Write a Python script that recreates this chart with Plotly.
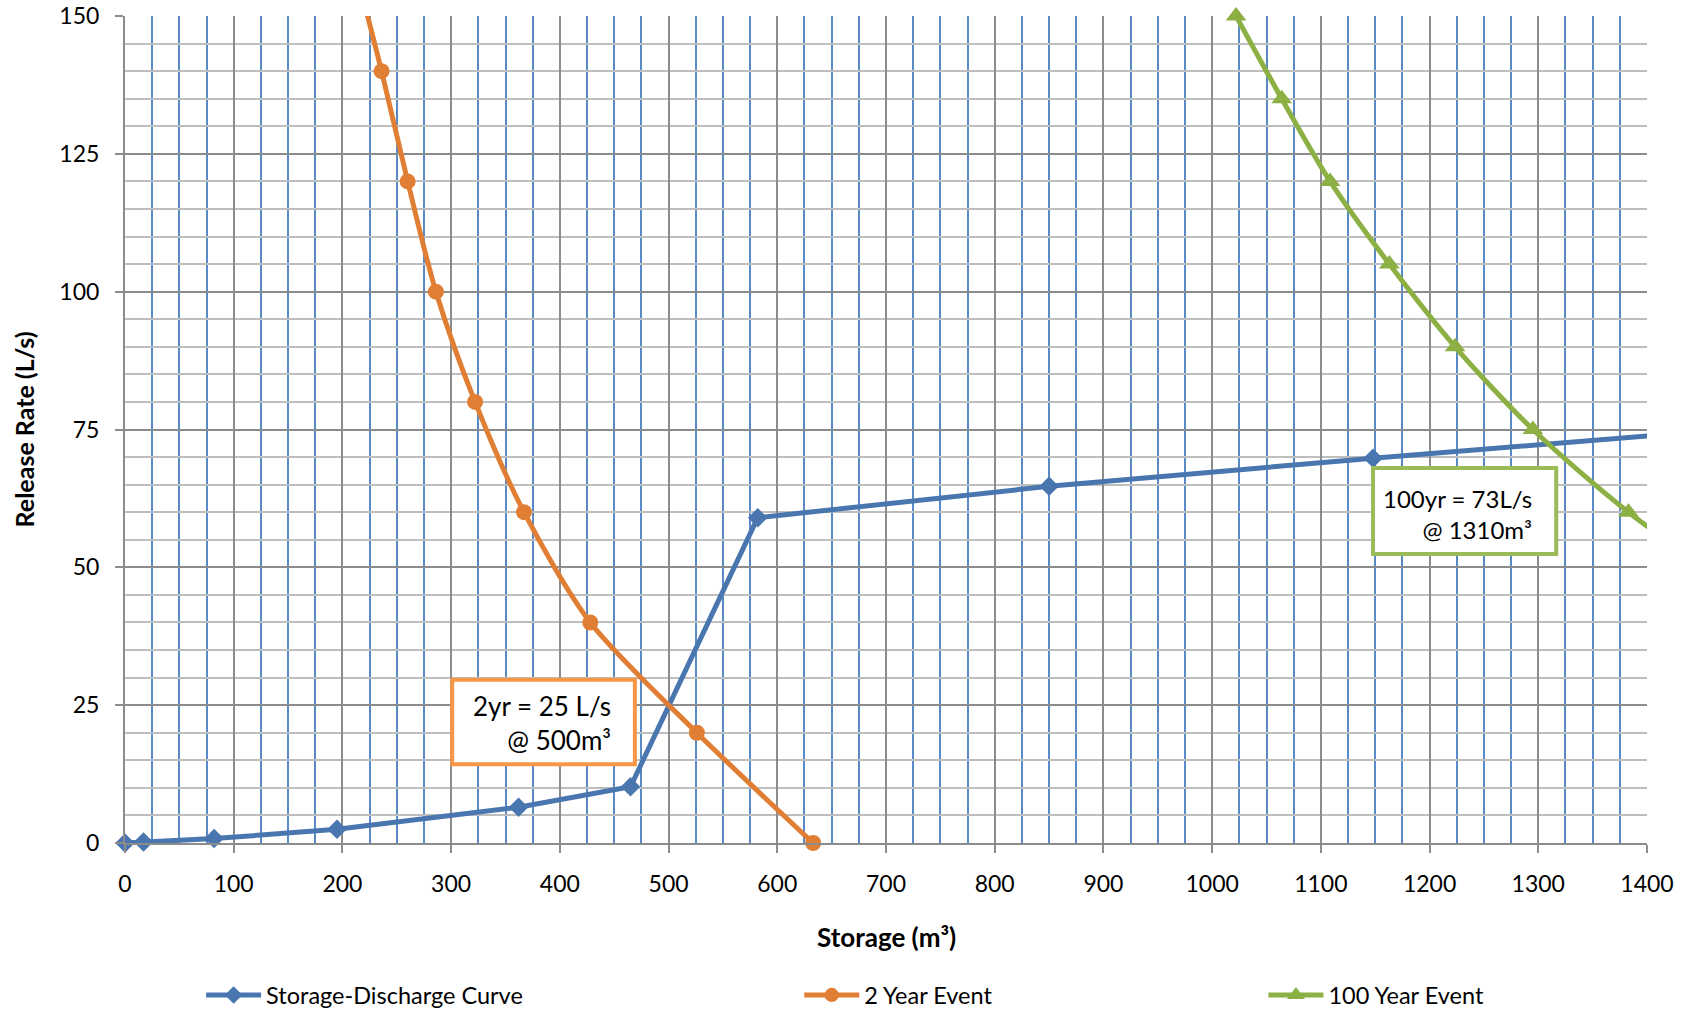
import plotly.graph_objects as go

# ---- data ----
sd_storage = [0, 17, 82, 195, 362, 465, 582, 850, 1148, 1450]
sd_release = [0, 0.2, 0.8, 2.5, 6.5, 10.2, 59, 64.7, 69.8, 74.6]

yr2_storage = [633, 526, 428, 367, 322, 286, 260, 236, 210]
yr2_release = [0, 20, 40, 60, 80, 100, 120, 140, 160]

yr100_storage = [1490, 1383, 1295, 1223.5, 1163, 1108.5, 1064, 1022]
yr100_release = [45, 60, 75, 90, 105, 120, 135, 150]

x_ticks = list(range(0, 1401, 100))
y_ticks = list(range(0, 151, 25))

X_RANGE = [0, 1400]
Y_RANGE = [0, 150]

BLUE = "#4A76B0"
ORANGE = "#E07F34"
GREEN = "#8CB043"
FONT = "Lato"


def visible_sizes(xs, ys, size):
    # markers only for points inside the axis ranges (lines still run to the edge)
    return [size if (X_RANGE[0] <= x <= X_RANGE[1] and Y_RANGE[0] <= y <= Y_RANGE[1]) else 0
            for x, y in zip(xs, ys)]


fig = go.Figure()

fig.add_trace(go.Scatter(
    x=sd_storage, y=sd_release, mode="lines+markers",
    name="Storage-Discharge Curve",
    line=dict(color=BLUE, width=5),
    marker=dict(symbol="diamond", size=visible_sizes(sd_storage, sd_release, 15), color=BLUE,
                opacity=1, line=dict(width=0)),
    cliponaxis=False, legend="legend", showlegend=True,
))
fig.add_trace(go.Scatter(
    x=yr2_storage, y=yr2_release, mode="lines+markers",
    name="2 Year Event",
    line=dict(color=ORANGE, width=5, shape="spline", smoothing=0.8),
    marker=dict(symbol="circle", size=visible_sizes(yr2_storage, yr2_release, 16), color=ORANGE,
                opacity=1, line=dict(width=0)),
    cliponaxis=False, legend="legend2", showlegend=True,
))
fig.add_trace(go.Scatter(
    x=yr100_storage, y=yr100_release, mode="lines+markers",
    name="100 Year Event",
    line=dict(color=GREEN, width=5, shape="spline", smoothing=0.8),
    marker=dict(symbol="triangle-up", size=visible_sizes(yr100_storage, yr100_release, 18), color=GREEN,
                opacity=1, line=dict(width=0)),
    cliponaxis=False, legend="legend3", showlegend=True,
))

# annotation boxes
fig.add_shape(type="rect", x0=301, x1=469, y0=14.3, y1=29.6,
              line=dict(color="#F79646", width=4), fillcolor="white", layer="above")
fig.add_annotation(x=449, y=21.7, xref="x", yref="y", xanchor="right", yanchor="middle",
                   align="right", showarrow=False,
                   text="2yr = 25 L/s<br>@ 500m³",
                   font=dict(family=FONT, size=26, color="black"))
fig.add_shape(type="rect", x0=1148, x1=1316.5, y0=52.4, y1=68,
              line=dict(color="#9BBB59", width=4), fillcolor="white", layer="above")
fig.add_annotation(x=1296, y=59.7, xref="x", yref="y", xanchor="right", yanchor="middle",
                   align="right", showarrow=False,
                   text="100yr = 73L/s<br>@ 1310m³",
                   font=dict(family=FONT, size=24, color="black"))

# axis titles
fig.add_annotation(x=0.5, y=-0.1137, xref="paper", yref="paper", showarrow=False,
                   xanchor="center", yanchor="middle",
                   text="<b>Storage (m³)</b>", font=dict(family=FONT, size=26, color="black"))
fig.add_annotation(x=-0.0664, y=0.5, xref="paper", yref="paper", showarrow=False,
                   xanchor="center", yanchor="middle", textangle=-90,
                   text="<b>Release Rate (L/s)</b>", font=dict(family=FONT, size=25, color="black"))

leg_common = dict(orientation="h", yanchor="middle", y=-0.184, xanchor="left",
                  font=dict(family=FONT, size=23.5, color="black"),
                  bgcolor="rgba(0,0,0,0)", itemwidth=55, tracegroupgap=0, visible=True)

fig.update_layout(
    width=1690, height=1012,
    margin=dict(l=125, r=43, t=16, b=169, autoexpand=False),
    paper_bgcolor="white", plot_bgcolor="white",
    showlegend=True,
    font=dict(family=FONT, size=23, color="black"),
    legend=dict(x=0.050, **leg_common),
    legend2=dict(x=0.443, **leg_common),
    legend3=dict(x=0.748, **leg_common),
    xaxis=dict(
        range=X_RANGE, tickvals=x_ticks, ticktext=[str(v) for v in x_ticks],
        showgrid=True, gridcolor="#8C8C8C", gridwidth=2,
        minor=dict(dtick=25, tick0=0, showgrid=True, gridcolor="#5A8AC6", gridwidth=2, ticks=""),
        showline=True, linecolor="#8C8C8C", linewidth=2,
        ticks="outside", ticklen=8, tickcolor="#8C8C8C", tickwidth=2,
        ticklabelstandoff=11, zeroline=False, automargin=False,
        tickfont=dict(family=FONT, size=23, color="black"),
    ),
    yaxis=dict(
        range=Y_RANGE, tickvals=y_ticks, ticktext=[str(v) for v in y_ticks],
        showgrid=True, gridcolor="#8C8C8C", gridwidth=2,
        minor=dict(dtick=5, tick0=0, showgrid=True, gridcolor="#BEBEBE", gridwidth=2, ticks=""),
        showline=True, linecolor="#8C8C8C", linewidth=2,
        ticks="outside", ticklen=8, tickcolor="#8C8C8C", tickwidth=2,
        ticklabelstandoff=11, zeroline=False, automargin=False,
        tickfont=dict(family=FONT, size=23, color="black"),
    ),
)

fig.write_html(
    "out.html",
    config={"displayModeBar": False},
    post_script="document.body.style.margin='0';document.body.style.overflow='hidden';",
)
